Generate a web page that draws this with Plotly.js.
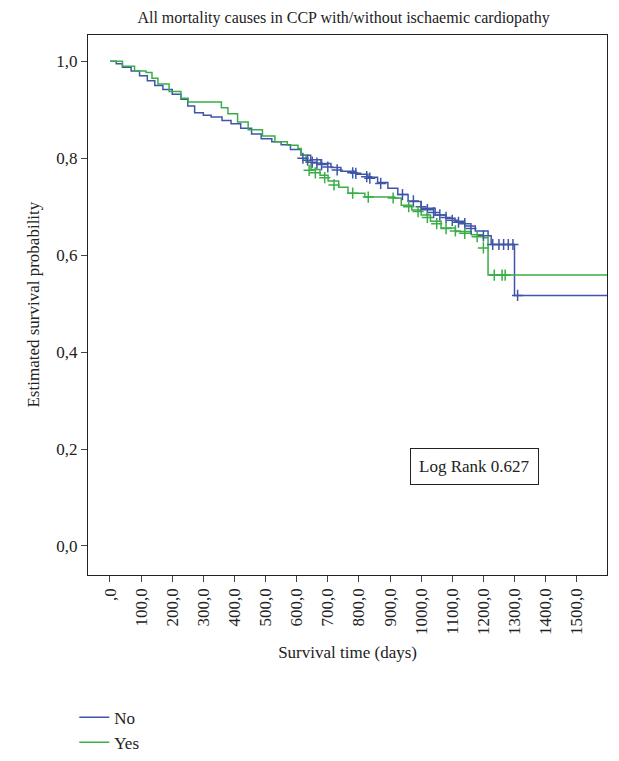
<!DOCTYPE html>
<html><head><meta charset="utf-8">
<script src="https://cdn.plot.ly/plotly-3.0.1.min.js"></script>
<style>body{margin:0;background:#fff}</style></head>
<body><div id="chart" style="width:619px;height:761px"></div>
<script>
// Kaplan-Meier steps
const noDays = [0, 20, 40, 68, 95, 120, 144, 170, 200, 228, 250, 272, 300, 325, 360, 389, 420, 455, 486, 520, 550, 580, 614, 645, 678, 710, 742, 790, 829, 860, 893, 925, 958, 1000, 1045, 1080, 1109, 1140, 1174, 1215, 1225, 1300, 1600];
const noSurv = [1.0, 0.995, 0.988, 0.980, 0.970, 0.960, 0.950, 0.942, 0.932, 0.922, 0.908, 0.894, 0.889, 0.885, 0.878, 0.871, 0.862, 0.850, 0.840, 0.834, 0.828, 0.818, 0.806, 0.797, 0.789, 0.781, 0.773, 0.767, 0.761, 0.750, 0.738, 0.725, 0.711, 0.697, 0.683, 0.676, 0.670, 0.660, 0.650, 0.640, 0.622, 0.517, 0.517];
const yesDays = [0, 40, 79, 116, 135, 154, 190, 228, 251, 337, 358, 379, 410, 444, 490, 530, 570, 604, 614, 630, 646, 675, 701, 735, 765, 819, 915, 936, 970, 1000, 1030, 1064, 1110, 1161, 1199, 1215, 1600];
const yesSurv = [1.0, 0.990, 0.980, 0.977, 0.965, 0.953, 0.938, 0.924, 0.916, 0.916, 0.904, 0.892, 0.875, 0.859, 0.846, 0.834, 0.827, 0.820, 0.806, 0.792, 0.777, 0.765, 0.753, 0.740, 0.728, 0.720, 0.718, 0.703, 0.693, 0.683, 0.670, 0.656, 0.649, 0.642, 0.636, 0.559, 0.559];

// censored observations
const noCensDays = [620, 635, 650, 665, 680, 700, 730, 780, 790, 825, 835, 870, 940, 975, 1000, 1020, 1040, 1060, 1080, 1100, 1120, 1140, 1160, 1200, 1230, 1250, 1265, 1280, 1295, 1310];
const noCensSurv = [0.800, 0.796, 0.792, 0.790, 0.787, 0.782, 0.776, 0.770, 0.769, 0.762, 0.759, 0.748, 0.725, 0.712, 0.700, 0.694, 0.688, 0.683, 0.678, 0.672, 0.668, 0.665, 0.655, 0.640, 0.622, 0.622, 0.622, 0.622, 0.622, 0.517];
const yesCensDays = [640, 660, 690, 720, 780, 830, 910, 960, 990, 1020, 1050, 1080, 1110, 1140, 1180, 1200, 1235, 1260, 1270];
const yesCensSurv = [0.775, 0.770, 0.760, 0.745, 0.728, 0.720, 0.718, 0.700, 0.690, 0.678, 0.665, 0.655, 0.650, 0.645, 0.638, 0.615, 0.559, 0.559, 0.559];
const xTicks = [0, 100, 200, 300, 400, 500, 600, 700, 800, 900, 1000, 1100, 1200, 1300, 1400, 1500];
const xTickText = [',0', '100,0', '200,0', '300,0', '400,0', '500,0', '600,0', '700,0', '800,0', '900,0', '1000,0', '1100,0', '1200,0', '1300,0', '1400,0', '1500,0'];
const yTicks = [0, 0.2, 0.4, 0.6, 0.8, 1.0];
const yTickText = ['0,0', '0,2', '0,4', '0,6', '0,8', '1,0'];

const blue = '#3f55a8', green = '#3aad47';
const traces = [
    { x: noDays, y: noSurv, name: 'No', mode: 'lines', line: { shape: 'hv', color: blue, width: 1.5 } },
    { x: yesDays, y: yesSurv, name: 'Yes', mode: 'lines', line: { shape: 'hv', color: green, width: 1.5 } },
    { x: noCensDays, y: noCensSurv, mode: 'markers', showlegend: false, hoverinfo: 'skip',
      marker: { symbol: 'cross-thin', size: 8, line: { color: blue, width: 1.5 } } },
    { x: yesCensDays, y: yesCensSurv, mode: 'markers', showlegend: false, hoverinfo: 'skip',
      marker: { symbol: 'cross-thin', size: 8, line: { color: green, width: 1.5 } } }
];

// plot box placed with domains so the legend stays inside the paper
const font = { family: 'Liberation Serif, DejaVu Serif, serif', color: '#222', size: 17 };
const layout = {
    width: 619, height: 761,
    margin: { l: 0, r: 0, t: 0, b: 0 },
    font: font,
    paper_bgcolor: '#fff', plot_bgcolor: '#fff',
    title: { text: 'All mortality causes in CCP with/without ischaemic cardiopathy', x: 0.555, xanchor: 'center', y: 0.985, yanchor: 'top', font: { size: 16 } },
    xaxis: {
        domain: [0.142, 0.981],
        range: [-71, 1598], tickvals: xTicks, ticktext: xTickText, tickangle: -90,
        tickfont: { size: 17 }, automargin: false,
        ticks: 'outside', ticklen: 6, showgrid: false, zeroline: false,
        showline: true, mirror: true, linecolor: '#222', linewidth: 1,
        title: { text: 'Survival time (days)', standoff: 12, font: { size: 17 } }
    },
    yaxis: {
        domain: [0.238, 0.954],
        range: [-0.059, 1.055], tickvals: yTicks, ticktext: yTickText,
        tickfont: { size: 17 }, automargin: false,
        ticks: 'outside', ticklen: 6, showgrid: false, zeroline: false,
        showline: true, mirror: true, linecolor: '#222', linewidth: 1,
        title: { text: 'Estimated survival probability', standoff: 12, font: { size: 17 } }
    },
    showlegend: true,
    legend: { x: 0.12, xanchor: 'left', y: 0.072, yanchor: 'top',
              tracegroupgap: 0, itemwidth: 30, font: { size: 17 } },
    annotations: [{
        x: 1170, y: 0.163, xref: 'x', yref: 'y', text: 'Log Rank 0.627', showarrow: false,
        bordercolor: '#222', borderwidth: 1, borderpad: 8, font: { size: 17 }
    }]
};
Plotly.newPlot('chart', traces, layout, { displayModeBar: false });
</script></body></html>
